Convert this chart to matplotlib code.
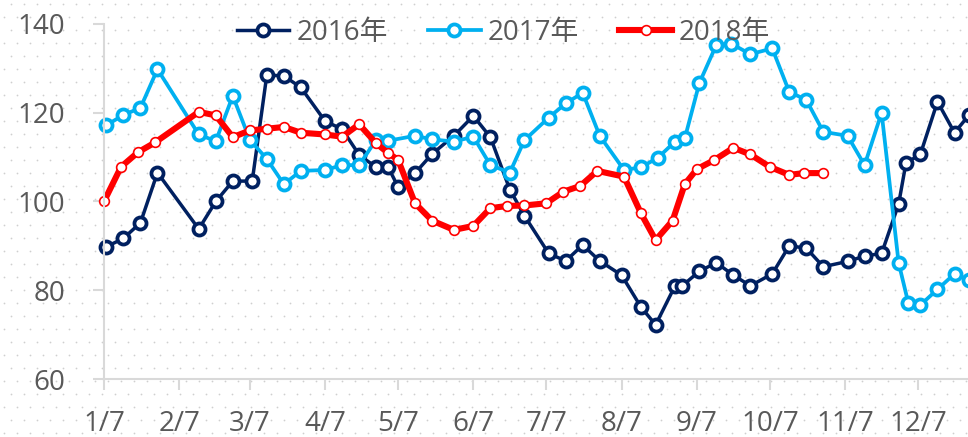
import matplotlib
matplotlib.use("Agg")
import matplotlib.pyplot as plt
import matplotlib.dates as mdates
from matplotlib.ticker import FuncFormatter
import numpy as np
import pandas as pd

plt.rcParams['font.family'] = ['Open Sans', 'Noto Sans CJK SC', 'DejaVu Sans']

# all years drawn on one month/day axis (2016 used as base year)
dates_2016 = ["01-08", "01-15", "01-22", "01-29", "02-15", "02-22", "02-29",
              "03-08", "03-14", "03-21", "03-28", "04-07", "04-14", "04-21", "04-28",
              "05-03", "05-07", "05-14", "05-21", "05-30", "06-07", "06-14", "06-22", "06-28",
              "07-08", "07-15", "07-22", "07-29", "08-07", "08-15", "08-21", "08-29",
              "09-01", "09-08", "09-15", "09-22", "09-29", "10-08", "10-15", "10-22", "10-29",
              "11-08", "11-15", "11-22", "11-29", "12-02", "12-08", "12-15", "12-22", "12-28"]
vals_2016 = [89.8, 91.7, 95.2, 106.5, 93.8, 100.0, 104.6,
             104.6, 128.5, 128.3, 125.7, 118.1, 116.3, 110.5, 107.7,
             107.7, 103.3, 106.4, 110.7, 114.8, 119.3, 114.5, 102.7, 96.8,
             88.3, 86.6, 90.2, 86.6, 83.4, 76.2, 72.2, 81.0,
             81.0, 84.3, 86.2, 83.4, 81.0, 83.7, 90.0, 89.5, 85.3,
             86.5, 87.7, 88.3, 99.4, 108.6, 110.7, 122.5, 115.5, 119.5]

dates_2017 = ["01-08", "01-15", "01-22", "01-29", "02-15", "02-22", "02-29",
              "03-07", "03-14", "03-21", "03-28", "04-07", "04-14", "04-21", "04-28",
              "05-03", "05-14", "05-21", "05-30", "06-07", "06-14", "06-22", "06-28",
              "07-08", "07-15", "07-22", "07-29", "08-08", "08-15", "08-22", "08-29",
              "09-02", "09-08", "09-15", "09-21", "09-29", "10-08", "10-15", "10-22", "10-29",
              "11-08", "11-15", "11-22", "11-29", "12-03", "12-08", "12-15", "12-22", "12-28"]
vals_2017 = [117.2, 119.5, 121.1, 129.8, 115.1, 113.6, 123.8,
             113.9, 109.6, 103.9, 106.9, 107.1, 108.2, 108.2, 113.9,
             113.7, 114.8, 114.0, 113.5, 114.6, 108.2, 106.5, 113.8,
             118.9, 122.1, 124.5, 114.8, 107.1, 107.7, 109.9, 113.5,
             114.2, 126.7, 135.3, 135.6, 133.2, 134.5, 124.7, 122.9, 115.7,
             114.8, 108.2, 120.0, 86.2, 77.1, 76.7, 80.2, 83.7, 82.3]

dates_2018 = ["01-07", "01-14", "01-21", "01-28", "02-15", "02-22", "02-29",
              "03-07", "03-14", "03-21", "03-28", "04-07", "04-14", "04-21", "04-28",
              "05-03", "05-07", "05-14", "05-21", "05-30", "06-07", "06-14", "06-21", "06-28",
              "07-07", "07-14", "07-21", "07-28", "08-08", "08-15", "08-21", "08-28",
              "09-02", "09-07", "09-14", "09-22", "09-29", "10-07", "10-15", "10-21", "10-29"]
vals_2018 = [100.0, 107.8, 111.1, 113.3, 120.2, 119.4, 114.5,
             116.0, 116.4, 116.8, 115.5, 115.1, 114.6, 117.4, 113.1,
             110.9, 109.4, 99.6, 95.7, 93.6, 94.5, 98.5, 99.0, 99.1,
             99.6, 102.2, 103.5, 106.9, 105.6, 97.3, 91.3, 95.7,
             103.9, 107.3, 109.3, 112.1, 110.6, 107.8, 106.0, 106.4, 106.4]

labels = ["2016年", "2017年", "2018年"]


def to_dt(md):
    return pd.to_datetime(["2016-" + s for s in md])


W, H = 968, 437
fig = plt.figure(figsize=(W / 100, H / 100), dpi=100)

# dotted background pattern
bg = fig.add_axes([0, 0, 1, 1], zorder=0)
bg.set_xlim(0, W)
bg.set_ylim(0, H)
bg.axis('off')
gx, gy = np.meshgrid(np.arange(4, W, 13.0), np.arange(4, H, 13.0))
gx[1::2] += 6.5
bg.scatter(gx.ravel(), gy.ravel(), s=1.6, color='#cfcfcf', linewidths=0)

ax = fig.add_axes([104 / W, 1 - 379 / H, (W - 104) / W, (379 - 24) / H], zorder=1)
ax.patch.set_alpha(0)

ax.plot(to_dt(dates_2016), vals_2016, color='#002060', lw=2.5, marker='o', ms=8.7,
        mfc='white', mec='#002060', mew=2.7, label=labels[0], clip_on=False)
ax.plot(to_dt(dates_2017), vals_2017, color='#00B0F0', lw=2.7, marker='o', ms=8.7,
        mfc='white', mec='#00B0F0', mew=2.7, label=labels[1], clip_on=False)
ax.plot(to_dt(dates_2018), vals_2018, color='#FF0000', lw=4.4, marker='o', ms=7.0,
        mfc='white', mec='#FF0000', mew=1.2, label=labels[2], clip_on=False)

ax.set_ylim(60, 140)
ax.set_yticks([60, 80, 100, 120, 140])
start = pd.Timestamp("2016-01-07")
ax.set_xlim(start, start + pd.Timedelta(days=(W - 104) / 2.43))
ax.xaxis.set_major_locator(mdates.MonthLocator(bymonthday=7))
ax.xaxis.set_major_formatter(FuncFormatter(
    lambda v, p: "{}/{}".format(mdates.num2date(v).month, mdates.num2date(v).day)))

for s in ['top', 'right']:
    ax.spines[s].set_visible(False)
for s in ['left', 'bottom']:
    ax.spines[s].set_color('#d9d9d9')
    ax.spines[s].set_linewidth(1.5)
ax.tick_params(axis='both', colors='#d9d9d9', labelcolor='#595959', labelsize=20, width=1.5)
ax.tick_params(axis='y', length=8, pad=20)
ax.tick_params(axis='x', length=8, pad=14)

fig.legend(loc='center', bbox_to_anchor=(0.52, 0.925), ncol=3, frameon=False,
           fontsize=20, handlelength=1.9, handletextpad=0.25, columnspacing=1.45,
           labelcolor='#595959', borderaxespad=0)

fig.savefig("out.png", dpi=100)
